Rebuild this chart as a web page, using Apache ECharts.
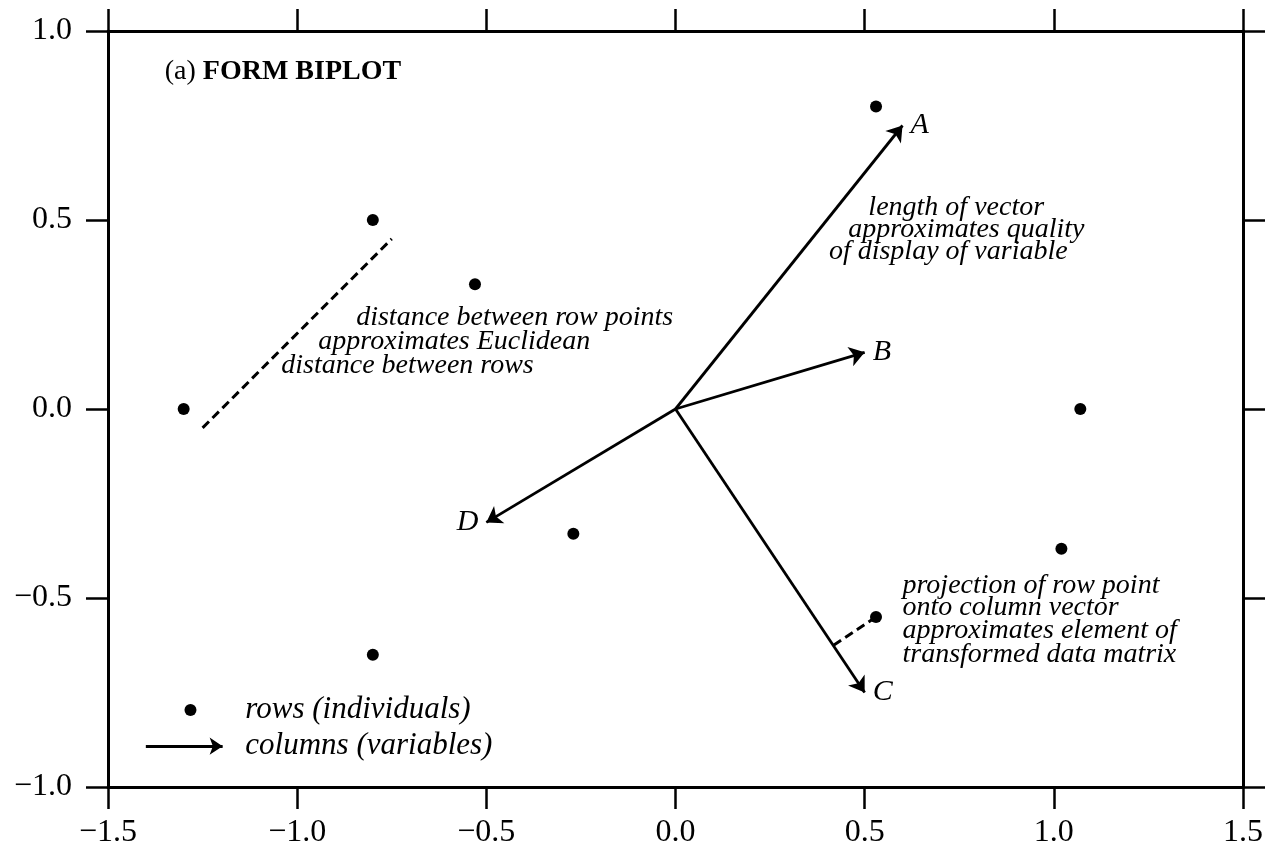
<!DOCTYPE html>
<html>
<head>
<meta charset="utf-8">
<script src="https://cdn.jsdelivr.net/npm/echarts@6/dist/echarts.min.js"></script>
<style>
  html, body { margin: 0; padding: 0; background: #fff; }
  #chart { width: 1273px; height: 853px; }
</style>
</head>
<body>
<div id="chart"></div>
<script>
// Row points (individuals)
const rowX = [0.53, -0.80, -0.53, -1.30, 1.07, -0.27, 1.02, 0.53, -0.80];
const rowY = [0.80, 0.50, 0.33, 0.00, 0.00, -0.33, -0.37, -0.55, -0.65];

// Column vectors (variables), drawn from the origin
const varNames = ['A', 'B', 'C', 'D'];
const varX = [0.60, 0.50, 0.50, -0.50];
const varY = [0.75, 0.15, -0.75, -0.30];

// Dashed segment illustrating distance between row points
const distX = [-1.25, -0.75];
const distY = [-0.05, 0.45];

// Row point projected onto a column vector
const projRow = 7;   // index into rowX/rowY
const projVar = 2;   // index into varX/varY (C)

// Axis ticks
const xTicks = [-1.5, -1.0, -0.5, 0.0, 0.5, 1.0, 1.5];
const yTicks = [-1.0, -0.5, 0.0, 0.5, 1.0];

// Texts
const titlePlain = '(a) ';
const titleBold = 'FORM BIPLOT';
const noteVector = ['length of vector', 'approximates quality', 'of display of variable'];
const noteDistance = ['distance between row points', 'approximates Euclidean', 'distance between rows'];
const noteProjection = ['projection of row point', 'onto column vector', 'approximates element of', 'transformed data matrix'];
const legendTexts = ['rows (individuals)', 'columns (variables)'];

// Placement of the text blocks (data units)
const layout = {
  title: [-1.35, 0.892],
  noteVector: { x: [0.742, 0.769, 0.721], y: [0.532, 0.474, 0.415], align: 'center' },
  noteDistance: { x: [-0.844, -0.944, -1.042], y: [0.241, 0.177, 0.116], align: 'left' },
  noteProjection: { x: [0.600, 0.600, 0.600, 0.600], y: [-0.466, -0.526, -0.587, -0.651], align: 'left' },
  legendDot: [-1.282, -0.796],
  legendArrow: [[-1.40, -0.892], [-1.197, -0.892]],
  legendTextX: -1.137,
  legendTextY: [-0.796, -0.892],
  varLabelSide: ['right', 'right', 'right', 'left']
};

const FONT = '"Liberation Serif", "DejaVu Serif", serif';
const INK = '#000';

const fmt = v => v.toFixed(1).replace('-', '\u2212');

// projection of the chosen row point onto the chosen vector
const vx = varX[projVar], vy = varY[projVar];
const t = (rowX[projRow] * vx + rowY[projRow] * vy) / (vx * vx + vy * vy);
const projPt = [t * vx, t * vy];

function axisCommon(showLabel, margin) {
  return {
    axisLine: { show: true, onZero: false, lineStyle: { color: INK, width: 3 } },
    axisTick: { show: true, inside: false, length: 22, lineStyle: { color: INK, width: 2.5 } },
    axisLabel: {
      show: showLabel,
      formatter: fmt,
      color: INK,
      fontFamily: FONT,
      fontSize: 32,
      margin: margin || 8
    },
    splitLine: { show: false }
  };
}

const xBase = { type: 'value', min: xTicks[0], max: xTicks[xTicks.length - 1], interval: xTicks[1] - xTicks[0] };
const yBase = { type: 'value', min: yTicks[0], max: yTicks[yTicks.length - 1], interval: yTicks[1] - yTicks[0] };

function textItems(lines, xs, ys, align, extra) {
  return lines.map((s, i) => ({
    value: [xs[i], ys[i]],
    label: Object.assign({
      show: true, formatter: s, position: 'inside', align: align, verticalAlign: 'middle',
      fontFamily: FONT, fontStyle: 'italic', fontSize: 28, color: INK, opacity: 1
    }, extra || {})
  }));
}

const noteItems = []
  .concat(textItems(noteVector, layout.noteVector.x, layout.noteVector.y, layout.noteVector.align))
  .concat(textItems(noteDistance, layout.noteDistance.x, layout.noteDistance.y, layout.noteDistance.align))
  .concat(textItems(noteProjection, layout.noteProjection.x, layout.noteProjection.y, layout.noteProjection.align))
  .concat(textItems(legendTexts, [layout.legendTextX, layout.legendTextX], layout.legendTextY, 'left', { fontSize: 31 }));

noteItems.push({
  value: layout.title,
  label: {
    show: true, position: 'inside', align: 'left', verticalAlign: 'middle', opacity: 1,
    formatter: '{p|' + titlePlain + '}{b|' + titleBold + '}',
    rich: {
      p: { fontFamily: FONT, fontSize: 28, color: INK },
      b: { fontFamily: FONT, fontSize: 28, fontWeight: 'bold', color: INK }
    }
  }
});

const solid = { color: INK, opacity: 1 };

const option = {
  backgroundColor: '#fff',
  animation: false,
  grid: { left: 108, top: 31, width: 1135, height: 756, outerBoundsMode: 'none', containLabel: false },
  xAxis: [
    Object.assign({}, xBase, axisCommon(true, 30), { position: 'bottom' }),
    Object.assign({}, xBase, axisCommon(false), { position: 'top' })
  ],
  yAxis: [
    Object.assign({}, yBase, axisCommon(true, 36), { position: 'left' }),
    Object.assign({}, yBase, axisCommon(false), { position: 'right' })
  ],
  series: [
    {
      name: 'vectors',
      type: 'lines',
      coordinateSystem: 'cartesian2d',
      xAxisIndex: 0, yAxisIndex: 0,
      symbol: ['none', 'arrow'],
      symbolSize: [0, 15],
      lineStyle: { color: INK, width: 2.8, opacity: 1 },
      z: 3,
      data: varNames.map((n, i) => ({ name: n, coords: [[0, 0], [varX[i], varY[i]]] }))
    },
    {
      name: 'vector labels',
      type: 'scatter',
      symbolSize: 0,
      itemStyle: solid,
      z: 4,
      data: varNames.map((n, i) => ({
        value: [varX[i], varY[i]],
        label: {
          show: true, formatter: n, position: layout.varLabelSide[i], distance: 8,
          fontFamily: FONT, fontStyle: 'italic', fontSize: 30, color: INK, opacity: 1
        }
      }))
    },
    {
      name: 'dashed guides',
      type: 'lines',
      coordinateSystem: 'cartesian2d',
      symbol: 'none',
      lineStyle: { color: INK, width: 3, type: [9, 5], opacity: 1 },
      z: 3,
      data: [
        { coords: [[distX[0], distY[0]], [distX[1], distY[1]]] },
        { coords: [[rowX[projRow], rowY[projRow]], projPt] }
      ]
    },
    {
      name: 'rows',
      type: 'scatter',
      symbol: 'circle',
      symbolSize: 12,
      itemStyle: solid,
      z: 5,
      data: rowX.map((x, i) => [x, rowY[i]])
    },
    {
      name: 'legend marks',
      type: 'lines',
      coordinateSystem: 'cartesian2d',
      symbol: ['none', 'arrow'],
      symbolSize: [0, 13],
      lineStyle: { color: INK, width: 2.8, opacity: 1 },
      data: [{ coords: layout.legendArrow }]
    },
    {
      name: 'legend dot',
      type: 'scatter',
      symbolSize: 12,
      itemStyle: solid,
      data: [layout.legendDot]
    },
    {
      name: 'notes',
      type: 'scatter',
      symbolSize: 0,
      itemStyle: solid,
      z: 6,
      data: noteItems
    }
  ]
};

const chart = echarts.init(document.getElementById('chart'), null, { renderer: 'canvas' });
chart.setOption(option);
</script>
</body>
</html>
